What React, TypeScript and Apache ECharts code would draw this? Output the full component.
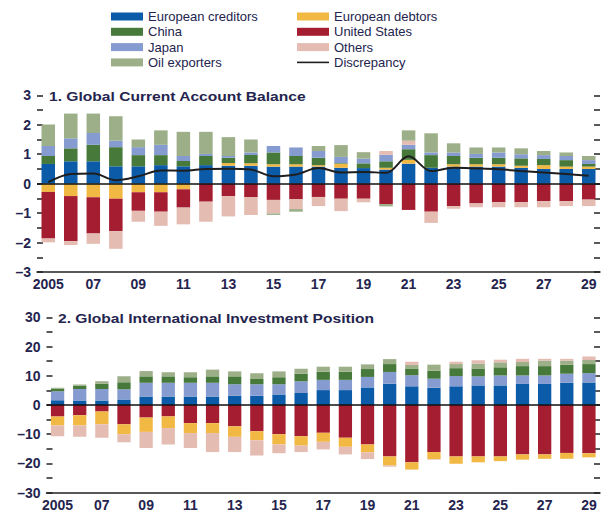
import { useEffect, useRef } from 'react';
import * as echarts from 'echarts';

const years = ['2005', '06', '07', '08', '09', '10', '11', '12', '13', '14', '15', '16', '17', '18', '19', '20', '21', '22', '23', '24', '25', '26', '27', '28', '29'];

// Panel 1: Global current account balance
const caEuroCreditors = [0.67, 0.76, 0.76, 0.59, 0.59, 0.63, 0.59, 0.63, 0.61, 0.61, 0.58, 0.58, 0.58, 0.54, 0.53, 0.48, 0.68, 0.54, 0.58, 0.58, 0.58, 0.54, 0.5, 0.5, 0.5];
const caEuroDebtors = [-0.28, -0.42, -0.46, -0.51, -0.29, -0.29, -0.19, 0, 0.09, 0.08, 0.08, 0.08, 0.05, 0.14, 0, 0.06, 0.13, 0, 0.08, 0.08, 0.08, 0.07, 0.13, 0.08, 0.08];
const caChina = [0.27, 0.44, 0.56, 0.65, 0.38, 0.34, 0.18, 0.31, 0.18, 0.28, 0.4, 0.28, 0.25, 0.02, 0.16, 0.22, 0.36, 0.43, 0.28, 0.22, 0.22, 0.25, 0.21, 0.22, 0.09];
const caJapan = [0.34, 0.34, 0.4, 0.22, 0.27, 0.35, 0.17, 0.07, 0.06, 0.09, 0.22, 0.29, 0.23, 0.21, 0.16, 0.22, 0.15, 0.09, 0.12, 0.13, 0.18, 0.14, 0.13, 0.14, 0.13];
const caUS = [-1.58, -1.53, -1.23, -1.1, -0.63, -0.66, -0.62, -0.61, -0.42, -0.45, -0.55, -0.52, -0.45, -0.51, -0.51, -0.69, -0.89, -0.95, -0.76, -0.67, -0.63, -0.63, -0.59, -0.59, -0.54];
const caOthers = [-0.13, -0.13, -0.35, -0.6, -0.37, -0.48, -0.57, -0.68, -0.69, -0.61, -0.46, -0.34, -0.31, -0.42, -0.12, 0.13, 0.14, -0.38, -0.09, -0.13, -0.17, -0.17, -0.21, -0.17, -0.22];
const caOil = [0.73, 0.84, 0.66, 0.83, 0.26, 0.49, 0.82, 0.75, 0.64, 0.44, -0.05, -0.09, 0.17, 0.4, 0.22, -0.08, 0.35, 0.65, 0.31, 0.22, 0.17, 0.2, 0.14, 0.12, 0.14];
const caDiscrepancy = [0.05, 0.33, 0.35, 0.12, 0.25, 0.45, 0.44, 0.5, 0.51, 0.48, 0.25, 0.31, 0.53, 0.38, 0.4, 0.37, 0.93, 0.43, 0.54, 0.52, 0.49, 0.43, 0.38, 0.33, 0.27];

// Panel 2: Global international investment position
const iipEuroCreditors = [1.6, 1.5, 1.5, 1.9, 2.9, 2.9, 2.9, 2.9, 3.2, 3.2, 3.6, 4.1, 5.1, 5.1, 6.0, 7.3, 6.4, 5.9, 6.4, 6.7, 6.7, 7.2, 7.2, 7.6, 7.7];
const iipJapan = [3.1, 4.0, 4.0, 3.5, 4.7, 4.7, 4.7, 4.7, 3.9, 3.9, 3.5, 4.0, 3.5, 3.5, 3.6, 4.0, 3.8, 3.1, 3.5, 3.1, 3.4, 2.9, 2.9, 3.1, 3.2];
const iipChina = [0.9, 1.1, 1.8, 2.4, 2.2, 2.2, 1.9, 2.2, 2.7, 1.8, 2.4, 2.6, 2.8, 2.8, 2.7, 2.7, 2.3, 2.7, 2.7, 2.7, 2.8, 3.2, 3.2, 3.1, 3.1];
const iipOil = [0.3, 0.4, 0.8, 2.0, 1.8, 1.4, 1.7, 2.3, 1.7, 2.0, 2.0, 1.7, 1.7, 1.7, 1.6, 1.7, 1.2, 2.1, 1.4, 1.7, 1.7, 1.4, 1.9, 1.4, 1.4];
const iipUS = [-3.9, -3.5, -2.2, -6.6, -4.3, -3.9, -6.2, -6.2, -7.3, -9.0, -10.0, -10.7, -9.5, -11.2, -13.5, -17.6, -19.6, -16.1, -17.6, -17.6, -17.6, -16.9, -16.9, -16.4, -16.5];
const iipEuroDebtors = [-3.1, -3.5, -4.4, -3.4, -4.9, -4.0, -3.4, -3.4, -3.6, -3.1, -3.5, -3.2, -3.1, -3.1, -2.7, -3.1, -2.5, -2.4, -2.5, -2.0, -1.6, -1.8, -1.5, -2.0, -1.4];
const iipOthers = [-3.7, -3.9, -4.6, -2.7, -5.5, -5.6, -5.1, -6.5, -5.2, -5.2, -3.0, -2.2, -2.6, -2.6, -2.3, -0.4, 1.1, -0.2, 0.8, 1.1, 0.9, 1.1, 0.6, 0.6, 1.2];

const C = {
  creditors: '#0b5ba8',
  debtors: '#f2b844',
  china: '#477a3a',
  us: '#a51d30',
  japan: '#869bcf',
  others: '#e4bcb2',
  oil: '#9caf88',
  disc: '#1e1e1e',
};

const FONT = '"Liberation Sans", Arial, Helvetica, sans-serif';
const TXT = '#24244e';
const AX = '#222222';

function fmtMinus(v: number) {
  return v < 0 ? '\u2013' + Math.abs(v) : String(v);
}

export default function App() {
  const ref = useRef<HTMLDivElement>(null);
  useEffect(() => {
    document.body.style.margin = '0';
    if (!ref.current) return;
    const chart = echarts.init(ref.current, undefined, { renderer: 'svg' });

    const bar = (name: string, data: number[], axis: number, color: string) => ({
      type: 'bar',
      name,
      data,
      xAxisIndex: axis,
      yAxisIndex: axis * 2,
      stack: 'panel' + axis,
      barWidth: '60%',
      itemStyle: { color },
      emphasis: { disabled: true },
    });

    const xAxis = (gridIndex: number) => ({
      type: 'category',
      gridIndex,
      data: years,
      boundaryGap: true,
      axisLine: { onZero: false, lineStyle: { color: AX, width: 1.5 } },
      axisTick: { inside: true, length: 4, interval: 0, lineStyle: { color: AX, width: 1.5 } },
      axisLabel: { interval: 1, color: TXT, fontWeight: 'bold', fontSize: 14, fontFamily: FONT, margin: 5 },
      splitLine: { show: false },
    });

    const yAxis = (gridIndex: number, min: number, max: number, interval: number, labelStep: number, right: boolean) => ({
      type: 'value',
      gridIndex,
      position: right ? 'right' : 'left',
      min,
      max,
      interval,
      axisLine: { show: false },
      axisTick: { show: true, inside: true, length: 6, lineStyle: { color: AX, width: 1.5 } },
      splitLine: { show: false },
      axisLabel: {
        show: !right,
        color: TXT,
        fontWeight: 'bold',
        fontSize: 14,
        fontFamily: FONT,
        margin: 6,
        formatter: (v: number) => (Math.abs(v % labelStep) < 1e-9 ? fmtMinus(v) : ''),
      },
    });

    const zeroLine = {
      silent: true,
      symbol: ['none', 'none'],
      label: { show: false },
      lineStyle: { color: '#111111', width: 1.5, type: 'solid' },
      data: [{ yAxis: 0 }],
    };

    const legendText = { fontSize: 13, color: TXT, fontFamily: FONT, lineHeight: 13 };

    chart.setOption({
      animation: false,
      backgroundColor: '#ffffff',
      legend: [
        {
          left: 106,
          top: 5,
          orient: 'vertical',
          itemWidth: 32,
          itemHeight: 8,
          itemGap: 2.3,
          selectedMode: false,
          textStyle: legendText,
          data: [
            { name: 'European creditors', icon: 'rect' },
            { name: 'China', icon: 'rect' },
            { name: 'Japan', icon: 'rect' },
            { name: 'Oil exporters', icon: 'rect' },
          ],
        },
        {
          left: 292,
          top: 5,
          orient: 'vertical',
          itemWidth: 32,
          itemHeight: 8,
          itemGap: 2.3,
          selectedMode: false,
          textStyle: legendText,
          data: [
            { name: 'European debtors', icon: 'rect' },
            { name: 'United States', icon: 'rect' },
            { name: 'Others', icon: 'rect' },
            { name: 'Discrepancy', icon: 'path://M0,0H32V1.6H0Z' },
          ],
        },
      ],
      grid: [
        { left: 37, right: 3, top: 95.3, bottom: 239.9 },
        { left: 46.5, right: 3, top: 317.3, bottom: 19.3 },
      ],
      xAxis: [xAxis(0), xAxis(1)],
      yAxis: [
        yAxis(0, -3, 3, 0.5, 1, false),
        yAxis(0, -3, 3, 0.5, 1, true),
        yAxis(1, -30, 30, 5, 10, false),
        yAxis(1, -30, 30, 5, 10, true),
      ],
      graphic: [
        {
          type: 'text',
          x: 49,
          y: 96.2,
          scaleX: 1.2,
          style: { text: '1. Global Current Account Balance', fill: TXT, font: `bold 13px ${FONT}`, verticalAlign: 'middle' },
        },
        {
          type: 'text',
          x: 58,
          y: 318.3,
          scaleX: 1.2,
          style: { text: '2. Global International Investment Position', fill: TXT, font: `bold 13px ${FONT}`, verticalAlign: 'middle' },
        },
      ],
      series: [
        bar('European creditors', caEuroCreditors, 0, C.creditors),
        bar('European debtors', caEuroDebtors, 0, C.debtors),
        bar('China', caChina, 0, C.china),
        bar('Japan', caJapan, 0, C.japan),
        bar('United States', caUS, 0, C.us),
        bar('Others', caOthers, 0, C.others),
        bar('Oil exporters', caOil, 0, C.oil),
        {
          type: 'line',
          name: 'Discrepancy',
          data: caDiscrepancy,
          xAxisIndex: 0,
          yAxisIndex: 0,
          smooth: 0.35,
          symbol: 'none',
          color: C.disc,
          lineStyle: { color: C.disc, width: 2 },
          emphasis: { disabled: true },
          z: 5,
          markLine: zeroLine,
        },
        bar('European creditors', iipEuroCreditors, 1, C.creditors),
        bar('Japan', iipJapan, 1, C.japan),
        bar('China', iipChina, 1, C.china),
        bar('Oil exporters', iipOil, 1, C.oil),
        { ...bar('United States', iipUS, 1, C.us), markLine: zeroLine },
        bar('European debtors', iipEuroDebtors, 1, C.debtors),
        bar('Others', iipOthers, 1, C.others),
      ],
    });
    return () => chart.dispose();
  }, []);
  return <div ref={ref} style={{ position: 'absolute', left: 0, top: 0, width: 603, height: 512 }} />;
}
